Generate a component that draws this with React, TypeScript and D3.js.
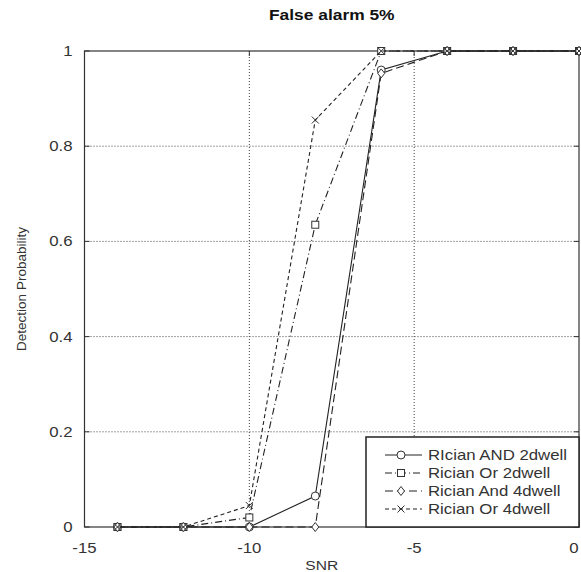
import React from "react";
import * as d3 from "d3";

const width = 581;
const height = 572;
const margin = { top: 51, right: 2, bottom: 45, left: 84.5 };

const snr = [-14, -12, -10, -8, -6, -4, -2, 0];
const andTwoDwell = [0, 0, 0, 0.065, 0.96, 1, 1, 1];
const orTwoDwell = [0, 0, 0.02, 0.635, 1, 1, 1, 1];
const andFourDwell = [0, 0, 0, 0, 0.953, 1, 1, 1];
const orFourDwell = [0, 0, 0.045, 0.855, 1, 1, 1, 1];

const xTicks = [-15, -10, -5, 0];
const yTicks = [0, 0.2, 0.4, 0.6, 0.8, 1];
const seriesNames = [
  "RIcian AND 2dwell",
  "Rician Or 2dwell",
  "Rician And 4dwell",
  "Rician Or 4dwell",
];

const x = d3
  .scaleLinear()
  .domain([-15, 0])
  .range([margin.left, width - margin.right]);
const y = d3
  .scaleLinear()
  .domain([0, 1])
  .range([height - margin.bottom, margin.top]);

const ink = "#333";
const font = "'Liberation Sans', Arial, sans-serif";
// the source image is a bit wider than tall, so all labels look stretched
const stretch = 1.2;

const series = [
  { name: seriesNames[0], values: andTwoDwell, dash: "none", marker: "circle" },
  { name: seriesNames[1], values: orTwoDwell, dash: "7,3,1,3", marker: "square" },
  { name: seriesNames[2], values: andFourDwell, dash: "8,4", marker: "diamond" },
  { name: seriesNames[3], values: orFourDwell, dash: "4,3", marker: "cross" },
];

const Label = ({ x, y, anchor = "start", size = 14, weight = "normal", fill = ink, children }) => (
  <text
    transform={`translate(${x},${y}) scale(${stretch},1)`}
    textAnchor={anchor}
    fontSize={size}
    fontWeight={weight}
    fill={fill}
    dy="0.35em"
  >
    {children}
  </text>
);

const Marker = ({ type, cx, cy }) => {
  const s = 3.5;
  if (type === "circle")
    return <circle cx={cx} cy={cy} r={s + 0.5} fill="white" stroke={ink} strokeWidth={1} />;
  if (type === "square")
    return (
      <rect x={cx - s} y={cy - s} width={2 * s} height={2 * s} fill="white" stroke={ink} strokeWidth={1} />
    );
  if (type === "diamond")
    return (
      <path
        d={`M${cx},${cy - s - 1}L${cx + s},${cy}L${cx},${cy + s + 1}L${cx - s},${cy}Z`}
        fill="white"
        stroke={ink}
        strokeWidth={1}
      />
    );
  return (
    <path
      d={`M${cx - s},${cy - s}L${cx + s},${cy + s}M${cx - s},${cy + s}L${cx + s},${cy - s}`}
      stroke={ink}
      strokeWidth={1}
    />
  );
};

export default function App() {
  const line = d3
    .line<number>()
    .x((_, i) => x(snr[i]))
    .y((d) => y(d));

  const plotLeft = x(-15);
  const plotRight = x(0);
  const plotTop = y(1);
  const plotBottom = y(0);

  const legend = { x: 366, y: 437, w: plotRight - 366, h: plotBottom - 437 };

  return (
    <svg
      width={width}
      height={height}
      style={{ position: "absolute", left: 0, top: 0, background: "white" }}
      fontFamily={font}
    >
      <rect width={width} height={height} fill="white" />
      {/* grid */}
      {xTicks.slice(1, -1).map((t) => (
        <line
          key={"gx" + t}
          x1={x(t)}
          x2={x(t)}
          y1={plotTop}
          y2={plotBottom}
          stroke="#444"
          strokeDasharray="1,2"
        />
      ))}
      {yTicks.slice(1, -1).map((t) => (
        <line
          key={"gy" + t}
          x1={plotLeft}
          x2={plotRight}
          y1={y(t)}
          y2={y(t)}
          stroke="#444"
          strokeDasharray="1,2"
        />
      ))}
      {/* ticks */}
      {yTicks.map((t) => (
        <g key={"ty" + t}>
          <line x1={plotLeft} x2={plotLeft + 5} y1={y(t)} y2={y(t)} stroke={ink} />
          <line x1={plotRight} x2={plotRight - 5} y1={y(t)} y2={y(t)} stroke={ink} />
          <Label x={plotLeft - 12} y={y(t)} anchor="end">
            {d3.format("~g")(t)}
          </Label>
        </g>
      ))}
      {xTicks.map((t) => (
        <g key={"tx" + t}>
          <line x1={x(t)} x2={x(t)} y1={plotBottom} y2={plotBottom - 5} stroke={ink} />
          <line x1={x(t)} x2={x(t)} y1={plotTop} y2={plotTop + 5} stroke={ink} />
          <Label x={Math.min(x(t), width - 7)} y={plotBottom + 21} anchor="middle">
            {t}
          </Label>
        </g>
      ))}
      {/* frame */}
      <rect
        x={plotLeft}
        y={plotTop}
        width={plotRight - plotLeft}
        height={plotBottom - plotTop}
        fill="none"
        stroke={ink}
        strokeWidth={1.2}
      />
      {/* series */}
      {series.map((s) => (
        <g key={s.name}>
          <path d={line(s.values) || ""} fill="none" stroke="#222" strokeWidth={1.1} strokeDasharray={s.dash} />
          {s.values.map((v, i) => (
            <Marker key={i} type={s.marker} cx={x(snr[i])} cy={y(v)} />
          ))}
        </g>
      ))}
      {/* legend */}
      <rect x={legend.x} y={legend.y} width={legend.w} height={legend.h} fill="white" stroke="#222" strokeWidth={1.5} />
      {series.map((s, i) => {
        const ly = legend.y + 18 + i * 18;
        return (
          <g key={"lg" + s.name}>
            <line x1={385} x2={422} y1={ly} y2={ly} stroke="#222" strokeWidth={1.1} strokeDasharray={s.dash} />
            <Marker type={s.marker} cx={401} cy={ly} />
            <Label x={428} y={ly}>
              {s.name}
            </Label>
          </g>
        );
      })}
      {/* labels */}
      <Label x={(plotLeft + plotRight) / 2} y={15} anchor="middle" size={14.5} weight="bold" fill="#111">
        False alarm 5%
      </Label>
      <Label x={(plotLeft + plotRight) / 2 - 10} y={565} anchor="middle" size={13}>
        SNR
      </Label>
      <text
        transform={`translate(26,${(plotTop + plotBottom) / 2}) rotate(-90)`}
        textAnchor="middle"
        fontSize={13.5}
        fill={ink}
      >
        Detection Probability
      </text>
    </svg>
  );
}
